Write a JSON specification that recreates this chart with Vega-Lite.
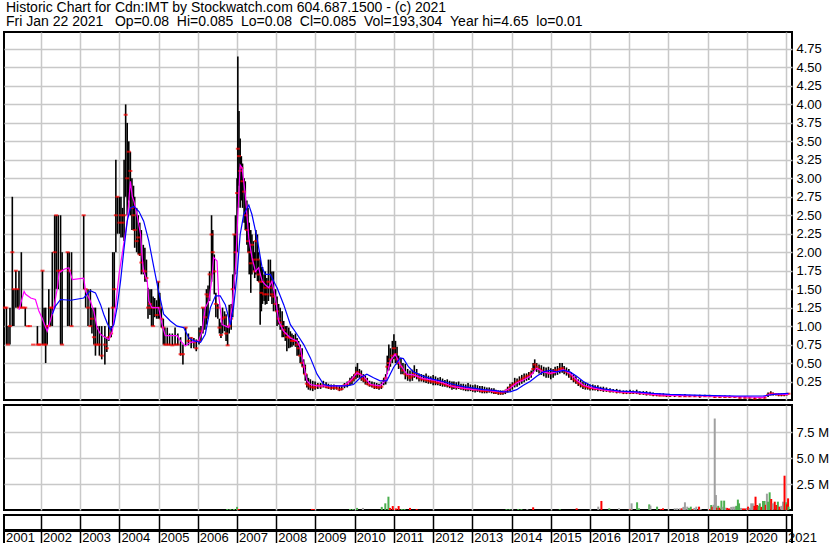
{
"$schema": "https://vega.github.io/schema/vega-lite/v6.json",
"background": "white",
"padding": {"left": 1, "top": 0, "right": 0, "bottom": 0},
"spacing": 2,
"resolve": {"scale": {"color": "independent"}},
"title": {"text": ["Historic Chart for Cdn:IMT by Stockwatch.com 604.687.1500 - (c) 2021", "Fri Jan 22 2021 \u00a0\u00a0Op=0.08 \u00a0Hi=0.085 \u00a0Lo=0.08 \u00a0Cl=0.085 \u00a0Vol=193,304 \u00a0Year hi=4.65 \u00a0lo=0.01"], "anchor": "start", "frame": "group", "fontSize": 14, "fontWeight": "normal", "font": "Liberation Sans", "color": "black", "lineHeight": 14.5, "offset": 2, "dx": 2, "baseline": "top"},
"config": {
  "view": {"stroke": "black", "strokeWidth": 2},
  "font": "Liberation Sans",
  "axis": {"labelFont": "Liberation Sans", "labelFontSize": 13, "labelColor": "black", "gridColor": "#c8c8c8", "gridWidth": 1.5, "gridOpacity": 1, "labelOverlap": false}
},
"datasets": {
"bars": [
{"t":2001.08,"h":1.25,"l":1.25,"c":1.25},{"t":2001.12,"h":1.25,"l":0.75,"c":1.25},{"t":2001.16,"h":1.0,"l":0.75,"c":0.75},{"t":2001.21,"h":1.25,"l":0.75,"c":1.0},{"t":2001.27,"h":2.75,"l":1.0,"c":2.0},{"t":2001.31,"h":1.5,"l":1.0,"c":1.5},{"t":2001.36,"h":1.75,"l":1.25,"c":1.75},{"t":2001.40,"h":1.5,"l":1.25,"c":1.5},{"t":2001.44,"h":1.75,"l":1.25,"c":1.25},{"t":2001.50,"h":2.0,"l":1.25,"c":1.25},{"t":2001.55,"h":1.25,"l":1.25,"c":1.25},{"t":2001.60,"h":1.25,"l":1.0,"c":1.25},{"t":2001.66,"h":1.0,"l":1.0,"c":1.0},{"t":2001.72,"h":1.0,"l":1.0,"c":1.0},{"t":2001.80,"h":0.75,"l":0.75,"c":0.75},{"t":2001.91,"h":1.0,"l":0.75,"c":0.75},{"t":2001.95,"h":0.75,"l":0.75,"c":0.75},{"t":2001.99,"h":0.75,"l":0.75,"c":0.75},
{"t":2002.04,"h":1.75,"l":0.75,"c":1.75},{"t":2002.08,"h":1.25,"l":0.75,"c":0.75},{"t":2002.12,"h":1.25,"l":0.5,"c":0.75},{"t":2002.16,"h":1.0,"l":0.75,"c":1.0},{"t":2002.20,"h":1.5,"l":1.0,"c":1.0},{"t":2002.25,"h":1.25,"l":1.0,"c":1.25},{"t":2002.29,"h":2.0,"l":1.0,"c":1.25},{"t":2002.35,"h":2.5,"l":1.25,"c":2.0},{"t":2002.39,"h":2.5,"l":1.5,"c":2.5},{"t":2002.44,"h":2.5,"l":1.5,"c":1.75},{"t":2002.50,"h":2.5,"l":0.75,"c":1.75},{"t":2002.54,"h":2.0,"l":0.75,"c":0.75},{"t":2002.68,"h":2.0,"l":1.0,"c":2.0},{"t":2002.72,"h":2.0,"l":1.0,"c":1.75},{"t":2002.78,"h":2.0,"l":1.0,"c":1.0},
{"t":2003.09,"h":2.5,"l":1.5,"c":2.5},{"t":2003.14,"h":1.5,"l":1.25,"c":1.5},{"t":2003.20,"h":1.5,"l":1.0,"c":1.25},{"t":2003.26,"h":1.5,"l":1.0,"c":1.0},{"t":2003.30,"h":1.25,"l":0.9,"c":1.1},{"t":2003.35,"h":1.25,"l":0.75,"c":0.85},{"t":2003.39,"h":1.25,"l":0.6,"c":0.75},{"t":2003.44,"h":1.0,"l":0.75,"c":0.75},{"t":2003.49,"h":1.0,"l":0.6,"c":0.75},{"t":2003.55,"h":1.0,"l":0.55,"c":0.6},{"t":2003.63,"h":1.0,"l":0.48,"c":0.75},{"t":2003.68,"h":0.85,"l":0.65,"c":0.7},{"t":2003.73,"h":1.25,"l":0.8,"c":0.85},{"t":2003.79,"h":1.0,"l":0.85,"c":0.9},{"t":2003.83,"h":2.0,"l":1.0,"c":1.25},{"t":2003.87,"h":2.0,"l":1.25,"c":1.5},{"t":2003.91,"h":3.25,"l":2.0,"c":2.5},{"t":2003.95,"h":2.75,"l":2.25,"c":2.75},
{"t":2004.00,"h":2.75,"l":2.25,"c":2.4},{"t":2004.04,"h":2.75,"l":2.2,"c":2.5},{"t":2004.08,"h":2.6,"l":2.2,"c":2.4},{"t":2004.12,"h":3.25,"l":2.15,"c":2.5},{"t":2004.16,"h":4.0,"l":2.75,"c":3.86},{"t":2004.20,"h":3.75,"l":2.5,"c":3.0},{"t":2004.24,"h":3.5,"l":2.7,"c":3.36},{"t":2004.28,"h":3.36,"l":2.5,"c":3.1},{"t":2004.32,"h":3.0,"l":2.3,"c":2.6},{"t":2004.36,"h":2.9,"l":2.3,"c":2.5},
{"t":2004.39,"h":2.75,"l":2.06,"c":2.3},{"t":2004.44,"h":2.6,"l":2.0,"c":2.15},{"t":2004.48,"h":2.5,"l":1.97,"c":2.2},{"t":2004.52,"h":2.4,"l":1.95,"c":1.97},{"t":2004.56,"h":2.3,"l":1.7,"c":1.86},{"t":2004.61,"h":2.1,"l":1.7,"c":1.75},{"t":2004.65,"h":2.06,"l":1.6,"c":1.74},{"t":2004.69,"h":1.9,"l":1.6,"c":1.65},{"t":2004.73,"h":1.52,"l":1.1,"c":1.25},{"t":2004.78,"h":1.5,"l":1.15,"c":1.3},{"t":2004.82,"h":1.5,"l":1.0,"c":1.25},{"t":2004.86,"h":1.4,"l":1.0,"c":1.0},{"t":2004.90,"h":1.38,"l":1.12,"c":1.25},{"t":2004.95,"h":1.35,"l":1.1,"c":1.15},{"t":2004.99,"h":1.6,"l":1.1,"c":1.6},
{"t":2005.03,"h":1.45,"l":1.1,"c":1.25},{"t":2005.07,"h":1.25,"l":0.98,"c":1.1},{"t":2005.12,"h":1.1,"l":0.75,"c":0.98},{"t":2005.16,"h":0.98,"l":0.74,"c":0.75},{"t":2005.22,"h":0.98,"l":0.74,"c":0.75},{"t":2005.28,"h":0.9,"l":0.74,"c":0.75},{"t":2005.35,"h":0.9,"l":0.74,"c":0.74},{"t":2005.42,"h":0.98,"l":0.74,"c":0.75},{"t":2005.49,"h":0.9,"l":0.74,"c":0.75},{"t":2005.56,"h":0.85,"l":0.6,"c":0.62},{"t":2005.62,"h":0.75,"l":0.48,"c":0.62},{"t":2005.69,"h":0.98,"l":0.74,"c":0.98},{"t":2005.76,"h":0.9,"l":0.74,"c":0.8},{"t":2005.83,"h":0.85,"l":0.7,"c":0.84},{"t":2005.90,"h":0.84,"l":0.7,"c":0.78},{"t":2005.96,"h":0.82,"l":0.66,"c":0.7},
{"t":2006.03,"h":0.98,"l":0.75,"c":0.8},{"t":2006.08,"h":1.0,"l":0.8,"c":0.93},{"t":2006.13,"h":1.25,"l":0.9,"c":1.25},{"t":2006.18,"h":1.25,"l":0.95,"c":1.12},{"t":2006.22,"h":1.5,"l":1.02,"c":1.43},{"t":2006.26,"h":1.55,"l":1.1,"c":1.4},{"t":2006.30,"h":1.74,"l":1.34,"c":1.7},{"t":2006.35,"h":2.5,"l":1.6,"c":2.24},{"t":2006.38,"h":2.3,"l":1.7,"c":2.0},{"t":2006.42,"h":1.97,"l":1.43,"c":1.74},{"t":2006.46,"h":1.45,"l":1.12,"c":1.3},{"t":2006.51,"h":1.3,"l":1.1,"c":1.25},{"t":2006.55,"h":1.1,"l":0.9,"c":0.98},{"t":2006.59,"h":1.05,"l":0.84,"c":0.88},{"t":2006.63,"h":1.25,"l":0.9,"c":1.1},{"t":2006.68,"h":1.2,"l":0.93,"c":1.12},{"t":2006.72,"h":1.16,"l":0.8,"c":0.9},{"t":2006.76,"h":1.0,"l":0.74,"c":0.74},{"t":2006.80,"h":1.29,"l":0.9,"c":1.0},{"t":2006.85,"h":1.3,"l":0.95,"c":1.1},{"t":2006.89,"h":1.7,"l":1.12,"c":1.5},{"t":2006.93,"h":2.24,"l":1.5,"c":2.24},{"t":2006.96,"h":2.5,"l":1.7,"c":2.0},
{"t":2007.00,"h":3.0,"l":2.0,"c":2.8},{"t":2007.02,"h":4.65,"l":2.6,"c":3.4},{"t":2007.05,"h":3.91,"l":2.9,"c":3.3},{"t":2007.08,"h":3.54,"l":2.6,"c":3.1},{"t":2007.11,"h":3.3,"l":2.7,"c":3.14},{"t":2007.14,"h":3.2,"l":2.6,"c":2.96},{"t":2007.18,"h":3.0,"l":2.4,"c":2.82},{"t":2007.21,"h":2.96,"l":2.3,"c":2.5},{"t":2007.25,"h":2.7,"l":2.1,"c":2.3},{"t":2007.28,"h":2.6,"l":2.0,"c":2.15},{"t":2007.31,"h":2.4,"l":1.7,"c":2.0},{"t":2007.35,"h":2.3,"l":1.45,"c":1.85},{"t":2007.38,"h":2.24,"l":1.7,"c":2.1},{"t":2007.42,"h":2.15,"l":1.75,"c":1.9},{"t":2007.45,"h":2.0,"l":1.65,"c":1.74},{"t":2007.48,"h":2.3,"l":1.7,"c":2.15},{"t":2007.52,"h":2.24,"l":1.61,"c":1.9},{"t":2007.55,"h":2.0,"l":1.6,"c":1.7},{"t":2007.59,"h":1.9,"l":1.02,"c":1.6},{"t":2007.62,"h":1.8,"l":1.2,"c":1.45},{"t":2007.65,"h":1.8,"l":1.3,"c":1.6},{"t":2007.69,"h":1.7,"l":1.34,"c":1.43},{"t":2007.72,"h":1.74,"l":1.29,"c":1.52},{"t":2007.76,"h":1.65,"l":1.3,"c":1.43},{"t":2007.80,"h":1.9,"l":1.34,"c":1.6},{"t":2007.85,"h":1.9,"l":1.4,"c":1.52},{"t":2007.89,"h":1.74,"l":1.3,"c":1.43},{"t":2007.93,"h":1.74,"l":1.2,"c":1.4},{"t":2007.98,"h":1.5,"l":1.2,"c":1.3},
{"t":2008.02,"h":1.4,"l":1.0,"c":1.2},{"t":2008.06,"h":1.3,"l":1.02,"c":1.1},{"t":2008.10,"h":1.25,"l":0.95,"c":1.05},{"t":2008.15,"h":1.2,"l":0.85,"c":1.0},{"t":2008.19,"h":1.07,"l":0.85,"c":0.95},{"t":2008.23,"h":1.0,"l":0.8,"c":0.9},{"t":2008.27,"h":1.0,"l":0.66,"c":0.85},{"t":2008.32,"h":0.98,"l":0.7,"c":0.85},{"t":2008.36,"h":0.93,"l":0.71,"c":0.84},{"t":2008.40,"h":0.9,"l":0.72,"c":0.8},{"t":2008.44,"h":0.88,"l":0.74,"c":0.8},{"t":2008.49,"h":0.9,"l":0.72,"c":0.8},{"t":2008.53,"h":0.84,"l":0.6,"c":0.75},{"t":2008.57,"h":0.8,"l":0.6,"c":0.7},{"t":2008.61,"h":0.75,"l":0.5,"c":0.6},{"t":2008.66,"h":0.7,"l":0.45,"c":0.5},{"t":2008.70,"h":0.55,"l":0.35,"c":0.45},{"t":2008.74,"h":0.48,"l":0.26,"c":0.35},{"t":2008.78,"h":0.35,"l":0.17,"c":0.22},{"t":2008.82,"h":0.3,"l":0.14,"c":0.2},{"t":2008.87,"h":0.28,"l":0.13,"c":0.18},{"t":2008.93,"h":0.26,"l":0.12,"c":0.17},{"t":2008.99,"h":0.25,"l":0.14,"c":0.17},
{"t":2009.06,"h":0.23,"l":0.15,"c":0.2},{"t":2009.13,"h":0.23,"l":0.15,"c":0.18},{"t":2009.20,"h":0.26,"l":0.17,"c":0.2},{"t":2009.27,"h":0.24,"l":0.16,"c":0.18},{"t":2009.33,"h":0.22,"l":0.15,"c":0.17},{"t":2009.40,"h":0.21,"l":0.14,"c":0.16},{"t":2009.47,"h":0.21,"l":0.14,"c":0.17},{"t":2009.54,"h":0.2,"l":0.14,"c":0.16},{"t":2009.61,"h":0.19,"l":0.12,"c":0.14},{"t":2009.67,"h":0.2,"l":0.13,"c":0.15},{"t":2009.74,"h":0.23,"l":0.16,"c":0.2},{"t":2009.81,"h":0.25,"l":0.17,"c":0.21},{"t":2009.88,"h":0.3,"l":0.2,"c":0.25},{"t":2009.93,"h":0.32,"l":0.21,"c":0.27},{"t":2009.98,"h":0.35,"l":0.25,"c":0.3},
{"t":2010.03,"h":0.45,"l":0.28,"c":0.35},{"t":2010.07,"h":0.5,"l":0.3,"c":0.38},{"t":2010.12,"h":0.42,"l":0.3,"c":0.35},{"t":2010.17,"h":0.4,"l":0.26,"c":0.3},{"t":2010.22,"h":0.35,"l":0.24,"c":0.28},{"t":2010.27,"h":0.33,"l":0.21,"c":0.26},{"t":2010.32,"h":0.3,"l":0.2,"c":0.22},{"t":2010.38,"h":0.26,"l":0.18,"c":0.2},{"t":2010.44,"h":0.25,"l":0.17,"c":0.2},{"t":2010.50,"h":0.24,"l":0.15,"c":0.18},{"t":2010.56,"h":0.23,"l":0.15,"c":0.17},{"t":2010.62,"h":0.22,"l":0.14,"c":0.17},{"t":2010.68,"h":0.24,"l":0.15,"c":0.18},{"t":2010.74,"h":0.3,"l":0.2,"c":0.26},{"t":2010.79,"h":0.35,"l":0.21,"c":0.3},{"t":2010.83,"h":0.6,"l":0.35,"c":0.45},{"t":2010.87,"h":0.75,"l":0.4,"c":0.5},{"t":2010.91,"h":0.7,"l":0.45,"c":0.55},{"t":2010.96,"h":0.8,"l":0.5,"c":0.6},
{"t":2011.00,"h":0.89,"l":0.55,"c":0.7},{"t":2011.04,"h":0.8,"l":0.5,"c":0.62},{"t":2011.08,"h":0.72,"l":0.48,"c":0.55},{"t":2011.12,"h":0.6,"l":0.42,"c":0.5},{"t":2011.18,"h":0.57,"l":0.35,"c":0.45},{"t":2011.23,"h":0.5,"l":0.35,"c":0.4},{"t":2011.29,"h":0.49,"l":0.28,"c":0.35},{"t":2011.35,"h":0.42,"l":0.26,"c":0.33},{"t":2011.41,"h":0.4,"l":0.25,"c":0.3},{"t":2011.47,"h":0.41,"l":0.26,"c":0.32},{"t":2011.52,"h":0.47,"l":0.3,"c":0.36},{"t":2011.58,"h":0.42,"l":0.28,"c":0.33},{"t":2011.64,"h":0.36,"l":0.25,"c":0.3},{"t":2011.70,"h":0.35,"l":0.25,"c":0.28},{"t":2011.76,"h":0.34,"l":0.24,"c":0.28},{"t":2011.82,"h":0.36,"l":0.23,"c":0.27},{"t":2011.88,"h":0.33,"l":0.22,"c":0.26},{"t":2011.94,"h":0.32,"l":0.22,"c":0.25},
{"t":2012.00,"h":0.34,"l":0.2,"c":0.25},{"t":2012.06,"h":0.32,"l":0.2,"c":0.24},{"t":2012.12,"h":0.3,"l":0.2,"c":0.23},{"t":2012.18,"h":0.31,"l":0.19,"c":0.24},{"t":2012.24,"h":0.29,"l":0.18,"c":0.22},{"t":2012.30,"h":0.27,"l":0.18,"c":0.21},{"t":2012.36,"h":0.28,"l":0.17,"c":0.2},{"t":2012.42,"h":0.26,"l":0.16,"c":0.19},{"t":2012.48,"h":0.25,"l":0.14,"c":0.18},{"t":2012.53,"h":0.25,"l":0.15,"c":0.19},{"t":2012.59,"h":0.24,"l":0.14,"c":0.17},{"t":2012.65,"h":0.25,"l":0.15,"c":0.18},{"t":2012.71,"h":0.22,"l":0.14,"c":0.16},{"t":2012.77,"h":0.22,"l":0.13,"c":0.16},{"t":2012.83,"h":0.21,"l":0.12,"c":0.15},{"t":2012.89,"h":0.23,"l":0.12,"c":0.16},{"t":2012.95,"h":0.21,"l":0.12,"c":0.15},
{"t":2013.01,"h":0.2,"l":0.11,"c":0.14},{"t":2013.07,"h":0.21,"l":0.1,"c":0.14},{"t":2013.13,"h":0.2,"l":0.11,"c":0.14},{"t":2013.19,"h":0.19,"l":0.1,"c":0.13},{"t":2013.25,"h":0.19,"l":0.09,"c":0.12},{"t":2013.31,"h":0.18,"l":0.09,"c":0.12},{"t":2013.37,"h":0.17,"l":0.09,"c":0.12},{"t":2013.43,"h":0.17,"l":0.1,"c":0.13},{"t":2013.49,"h":0.16,"l":0.09,"c":0.12},{"t":2013.55,"h":0.16,"l":0.08,"c":0.11},{"t":2013.60,"h":0.14,"l":0.08,"c":0.1},{"t":2013.66,"h":0.13,"l":0.07,"c":0.1},{"t":2013.72,"h":0.13,"l":0.07,"c":0.09},{"t":2013.78,"h":0.13,"l":0.07,"c":0.1},{"t":2013.84,"h":0.14,"l":0.08,"c":0.11},{"t":2013.90,"h":0.18,"l":0.1,"c":0.14},{"t":2013.96,"h":0.22,"l":0.12,"c":0.17},
{"t":2014.02,"h":0.24,"l":0.14,"c":0.2},{"t":2014.08,"h":0.3,"l":0.17,"c":0.22},{"t":2014.14,"h":0.29,"l":0.18,"c":0.24},{"t":2014.20,"h":0.32,"l":0.2,"c":0.26},{"t":2014.26,"h":0.34,"l":0.22,"c":0.28},{"t":2014.32,"h":0.36,"l":0.24,"c":0.3},{"t":2014.38,"h":0.36,"l":0.26,"c":0.32},{"t":2014.44,"h":0.38,"l":0.27,"c":0.33},{"t":2014.50,"h":0.4,"l":0.3,"c":0.36},{"t":2014.55,"h":0.5,"l":0.36,"c":0.42},{"t":2014.59,"h":0.55,"l":0.4,"c":0.48},{"t":2014.64,"h":0.5,"l":0.38,"c":0.45},{"t":2014.70,"h":0.48,"l":0.36,"c":0.42},{"t":2014.76,"h":0.47,"l":0.34,"c":0.4},{"t":2014.82,"h":0.45,"l":0.32,"c":0.38},{"t":2014.88,"h":0.44,"l":0.3,"c":0.38},{"t":2014.94,"h":0.45,"l":0.3,"c":0.36},
{"t":2015.00,"h":0.43,"l":0.28,"c":0.36},{"t":2015.06,"h":0.42,"l":0.3,"c":0.37},{"t":2015.11,"h":0.45,"l":0.33,"c":0.4},{"t":2015.17,"h":0.46,"l":0.34,"c":0.4},{"t":2015.23,"h":0.5,"l":0.36,"c":0.42},{"t":2015.29,"h":0.5,"l":0.37,"c":0.43},{"t":2015.34,"h":0.46,"l":0.35,"c":0.4},{"t":2015.40,"h":0.44,"l":0.33,"c":0.38},{"t":2015.46,"h":0.42,"l":0.3,"c":0.36},{"t":2015.52,"h":0.38,"l":0.27,"c":0.32},{"t":2015.58,"h":0.35,"l":0.24,"c":0.28},{"t":2015.64,"h":0.32,"l":0.22,"c":0.26},{"t":2015.70,"h":0.28,"l":0.19,"c":0.23},{"t":2015.76,"h":0.27,"l":0.17,"c":0.21},{"t":2015.82,"h":0.25,"l":0.15,"c":0.19},{"t":2015.88,"h":0.24,"l":0.14,"c":0.18},{"t":2015.94,"h":0.22,"l":0.14,"c":0.17},
{"t":2016.00,"h":0.21,"l":0.13,"c":0.16},{"t":2016.07,"h":0.21,"l":0.13,"c":0.16},{"t":2016.13,"h":0.2,"l":0.13,"c":0.15},{"t":2016.20,"h":0.2,"l":0.12,"c":0.15},{"t":2016.27,"h":0.18,"l":0.12,"c":0.14},{"t":2016.34,"h":0.18,"l":0.11,"c":0.14},{"t":2016.42,"h":0.17,"l":0.11,"c":0.13},{"t":2016.51,"h":0.16,"l":0.1,"c":0.12},{"t":2016.59,"h":0.15,"l":0.1,"c":0.12},{"t":2016.68,"h":0.15,"l":0.09,"c":0.11},{"t":2016.76,"h":0.14,"l":0.09,"c":0.11},{"t":2016.85,"h":0.13,"l":0.08,"c":0.1},{"t":2016.93,"h":0.13,"l":0.08,"c":0.1},
{"t":2017.02,"h":0.14,"l":0.08,"c":0.1},{"t":2017.10,"h":0.13,"l":0.08,"c":0.1},{"t":2017.19,"h":0.14,"l":0.08,"c":0.1},{"t":2017.27,"h":0.12,"l":0.07,"c":0.09},{"t":2017.36,"h":0.12,"l":0.07,"c":0.09},{"t":2017.44,"h":0.12,"l":0.06,"c":0.08},{"t":2017.53,"h":0.11,"l":0.06,"c":0.08},{"t":2017.61,"h":0.1,"l":0.05,"c":0.07},{"t":2017.70,"h":0.09,"l":0.05,"c":0.07},{"t":2017.78,"h":0.09,"l":0.05,"c":0.06},{"t":2017.87,"h":0.09,"l":0.05,"c":0.06},{"t":2017.95,"h":0.08,"l":0.04,"c":0.06},
{"t":2018.04,"h":0.08,"l":0.04,"c":0.06},{"t":2018.16,"h":0.08,"l":0.04,"c":0.06},{"t":2018.29,"h":0.08,"l":0.04,"c":0.05},{"t":2018.42,"h":0.08,"l":0.04,"c":0.05},{"t":2018.54,"h":0.07,"l":0.04,"c":0.05},{"t":2018.67,"h":0.07,"l":0.04,"c":0.05},{"t":2018.80,"h":0.07,"l":0.03,"c":0.05},{"t":2018.93,"h":0.07,"l":0.04,"c":0.05},
{"t":2019.05,"h":0.07,"l":0.04,"c":0.05},{"t":2019.18,"h":0.06,"l":0.03,"c":0.04},{"t":2019.31,"h":0.06,"l":0.03,"c":0.04},{"t":2019.44,"h":0.06,"l":0.03,"c":0.04},{"t":2019.56,"h":0.06,"l":0.03,"c":0.04},{"t":2019.69,"h":0.05,"l":0.03,"c":0.04},{"t":2019.82,"h":0.05,"l":0.02,"c":0.03},{"t":2019.95,"h":0.05,"l":0.02,"c":0.03},
{"t":2020.07,"h":0.04,"l":0.02,"c":0.03},{"t":2020.20,"h":0.04,"l":0.01,"c":0.02},{"t":2020.33,"h":0.04,"l":0.02,"c":0.03},{"t":2020.45,"h":0.05,"l":0.02,"c":0.03},{"t":2020.54,"h":0.1,"l":0.04,"c":0.07},{"t":2020.61,"h":0.12,"l":0.06,"c":0.09},{"t":2020.67,"h":0.1,"l":0.06,"c":0.08},{"t":2020.74,"h":0.09,"l":0.06,"c":0.08},{"t":2020.81,"h":0.09,"l":0.05,"c":0.07},{"t":2020.88,"h":0.09,"l":0.05,"c":0.07},{"t":2020.95,"h":0.09,"l":0.05,"c":0.07},{"t":2021.02,"h":0.09,"l":0.06,"c":0.08},{"t":2021.06,"h":0.085,"l":0.08,"c":0.085}
],
"ma": [
{"t":2001.44,"v":1.22,"s":"a"},{"t":2001.57,"v":1.47,"s":"a"},{"t":2001.61,"v":1.43,"s":"a"},{"t":2001.74,"v":1.38,"s":"a"},{"t":2001.86,"v":1.36,"s":"a"},{"t":2001.95,"v":1.20,"s":"a"},{"t":2002.03,"v":1.11,"s":"a"},{"t":2002.12,"v":0.98,"s":"a"},{"t":2002.16,"v":0.93,"s":"a"},{"t":2002.25,"v":1.09,"s":"a"},{"t":2002.33,"v":1.25,"s":"a"},{"t":2002.42,"v":1.52,"s":"a"},{"t":2002.46,"v":1.72,"s":"a"},{"t":2002.59,"v":1.77,"s":"a"},{"t":2002.71,"v":1.79,"s":"a"},{"t":2002.80,"v":1.63,"s":"a"},{"t":2003.09,"v":1.65,"s":"a"},{"t":2003.14,"v":1.47,"s":"a"},{"t":2003.26,"v":1.34,"s":"a"},{"t":2003.35,"v":1.20,"s":"a"},{"t":2003.43,"v":0.98,"s":"a"},{"t":2003.52,"v":0.89,"s":"a"},{"t":2003.60,"v":0.86,"s":"a"},{"t":2003.73,"v":0.82,"s":"a"},{"t":2003.82,"v":0.93,"s":"a"},{"t":2003.90,"v":1.25,"s":"a"},{"t":2003.99,"v":1.70,"s":"a"},{"t":2004.07,"v":1.97,"s":"a"},{"t":2004.20,"v":2.42,"s":"a"},{"t":2004.28,"v":2.96,"s":"a"},{"t":2004.33,"v":2.75,"s":"a"},{"t":2004.37,"v":2.69,"s":"a"},{"t":2004.45,"v":2.51,"s":"a"},{"t":2004.54,"v":2.24,"s":"a"},{"t":2004.58,"v":1.93,"s":"a"},{"t":2004.62,"v":1.74,"s":"a"},{"t":2004.71,"v":1.61,"s":"a"},{"t":2004.75,"v":1.34,"s":"a"},{"t":2004.83,"v":1.25,"s":"a"},{"t":2005.00,"v":1.25,"s":"a"},{"t":2005.09,"v":1.02,"s":"a"},{"t":2005.17,"v":0.87,"s":"a"},{"t":2005.47,"v":0.87,"s":"a"},{"t":2005.56,"v":0.80,"s":"a"},{"t":2005.68,"v":0.73,"s":"a"},{"t":2005.81,"v":0.78,"s":"a"},{"t":2006.02,"v":0.80,"s":"a"},{"t":2006.11,"v":0.93,"s":"a"},{"t":2006.19,"v":1.25,"s":"a"},{"t":2006.28,"v":1.34,"s":"a"},{"t":2006.36,"v":1.65,"s":"a"},{"t":2006.40,"v":1.93,"s":"a"},{"t":2006.49,"v":1.88,"s":"a"},{"t":2006.53,"v":1.43,"s":"a"},{"t":2006.62,"v":1.02,"s":"a"},{"t":2006.79,"v":0.98,"s":"a"},{"t":2006.87,"v":1.25,"s":"a"},{"t":2006.96,"v":1.79,"s":"a"},{"t":2007.04,"v":2.73,"s":"a"},{"t":2007.08,"v":3.18,"s":"a"},{"t":2007.13,"v":3.14,"s":"a"},{"t":2007.21,"v":2.78,"s":"a"},{"t":2007.30,"v":2.19,"s":"a"},{"t":2007.38,"v":1.93,"s":"a"},{"t":2007.47,"v":1.74,"s":"a"},{"t":2007.55,"v":1.79,"s":"a"},{"t":2007.64,"v":1.61,"s":"a"},{"t":2007.72,"v":1.56,"s":"a"},{"t":2007.81,"v":1.52,"s":"a"},{"t":2007.89,"v":1.61,"s":"a"},{"t":2007.98,"v":1.38,"s":"a"},{"t":2008.06,"v":1.07,"s":"a"},{"t":2008.19,"v":0.93,"s":"a"},{"t":2008.36,"v":0.84,"s":"a"},{"t":2008.53,"v":0.80,"s":"a"},{"t":2008.61,"v":0.71,"s":"a"},{"t":2008.70,"v":0.48,"s":"a"},{"t":2008.78,"v":0.26,"s":"a"},{"t":2008.87,"v":0.21,"s":"a"},{"t":2009.04,"v":0.19,"s":"a"},{"t":2009.72,"v":0.19,"s":"a"},{"t":2009.89,"v":0.26,"s":"a"},{"t":2010.06,"v":0.37,"s":"a"},{"t":2010.23,"v":0.32,"s":"a"},{"t":2010.40,"v":0.21,"s":"a"},{"t":2010.65,"v":0.19,"s":"a"},{"t":2010.78,"v":0.26,"s":"a"},{"t":2010.91,"v":0.53,"s":"a"},{"t":2011.03,"v":0.62,"s":"a"},{"t":2011.16,"v":0.48,"s":"a"},{"t":2011.33,"v":0.35,"s":"a"},{"t":2011.50,"v":0.34,"s":"a"},{"t":2011.75,"v":0.29,"s":"a"},{"t":2012.01,"v":0.27,"s":"a"},{"t":2012.26,"v":0.23,"s":"a"},{"t":2012.52,"v":0.18,"s":"a"},{"t":2012.77,"v":0.16,"s":"a"},{"t":2013.03,"v":0.14,"s":"a"},{"t":2013.28,"v":0.135,"s":"a"},{"t":2013.54,"v":0.12,"s":"a"},{"t":2013.79,"v":0.11,"s":"a"},{"t":2013.96,"v":0.16,"s":"a"},{"t":2014.13,"v":0.23,"s":"a"},{"t":2014.30,"v":0.27,"s":"a"},{"t":2014.47,"v":0.32,"s":"a"},{"t":2014.64,"v":0.43,"s":"a"},{"t":2014.81,"v":0.38,"s":"a"},{"t":2014.98,"v":0.36,"s":"a"},{"t":2015.15,"v":0.38,"s":"a"},{"t":2015.32,"v":0.41,"s":"a"},{"t":2015.49,"v":0.36,"s":"a"},{"t":2015.66,"v":0.27,"s":"a"},{"t":2015.83,"v":0.20,"s":"a"},{"t":2016.08,"v":0.16,"s":"a"},{"t":2016.34,"v":0.135,"s":"a"},{"t":2016.76,"v":0.11,"s":"a"},{"t":2017.19,"v":0.10,"s":"a"},{"t":2017.61,"v":0.077,"s":"a"},{"t":2018.04,"v":0.063,"s":"a"},{"t":2018.88,"v":0.054,"s":"a"},{"t":2019.73,"v":0.045,"s":"a"},{"t":2020.41,"v":0.036,"s":"a"},{"t":2020.58,"v":0.077,"s":"a"},{"t":2020.75,"v":0.08,"s":"a"},{"t":2021.06,"v":0.077,"s":"a"},
{"t":2002.29,"v":1.16,"s":"b"},{"t":2002.37,"v":1.27,"s":"b"},{"t":2002.50,"v":1.36,"s":"b"},{"t":2002.76,"v":1.35,"s":"b"},{"t":2003.09,"v":1.38,"s":"b"},{"t":2003.26,"v":1.48,"s":"b"},{"t":2003.39,"v":1.45,"s":"b"},{"t":2003.52,"v":1.29,"s":"b"},{"t":2003.60,"v":1.16,"s":"b"},{"t":2003.69,"v":1.04,"s":"b"},{"t":2003.77,"v":0.95,"s":"b"},{"t":2003.86,"v":1.02,"s":"b"},{"t":2003.94,"v":1.25,"s":"b"},{"t":2004.03,"v":1.61,"s":"b"},{"t":2004.11,"v":2.01,"s":"b"},{"t":2004.20,"v":2.42,"s":"b"},{"t":2004.28,"v":2.60,"s":"b"},{"t":2004.37,"v":2.62,"s":"b"},{"t":2004.50,"v":2.55,"s":"b"},{"t":2004.62,"v":2.42,"s":"b"},{"t":2004.75,"v":2.15,"s":"b"},{"t":2004.88,"v":1.79,"s":"b"},{"t":2005.00,"v":1.47,"s":"b"},{"t":2005.13,"v":1.16,"s":"b"},{"t":2005.30,"v":1.07,"s":"b"},{"t":2005.47,"v":1.00,"s":"b"},{"t":2005.64,"v":0.98,"s":"b"},{"t":2005.77,"v":0.84,"s":"b"},{"t":2005.90,"v":0.80,"s":"b"},{"t":2006.07,"v":0.78,"s":"b"},{"t":2006.19,"v":0.89,"s":"b"},{"t":2006.32,"v":1.25,"s":"b"},{"t":2006.45,"v":1.41,"s":"b"},{"t":2006.57,"v":1.41,"s":"b"},{"t":2006.70,"v":1.29,"s":"b"},{"t":2006.83,"v":1.02,"s":"b"},{"t":2006.91,"v":1.25,"s":"b"},{"t":2007.00,"v":1.70,"s":"b"},{"t":2007.08,"v":2.24,"s":"b"},{"t":2007.17,"v":2.51,"s":"b"},{"t":2007.30,"v":2.64,"s":"b"},{"t":2007.38,"v":2.51,"s":"b"},{"t":2007.51,"v":2.19,"s":"b"},{"t":2007.64,"v":1.79,"s":"b"},{"t":2007.72,"v":1.70,"s":"b"},{"t":2007.85,"v":1.70,"s":"b"},{"t":2007.93,"v":1.61,"s":"b"},{"t":2008.02,"v":1.52,"s":"b"},{"t":2008.19,"v":1.29,"s":"b"},{"t":2008.36,"v":1.02,"s":"b"},{"t":2008.53,"v":0.89,"s":"b"},{"t":2008.70,"v":0.75,"s":"b"},{"t":2008.87,"v":0.57,"s":"b"},{"t":2009.04,"v":0.35,"s":"b"},{"t":2009.21,"v":0.21,"s":"b"},{"t":2009.38,"v":0.19,"s":"b"},{"t":2009.80,"v":0.19,"s":"b"},{"t":2009.97,"v":0.21,"s":"b"},{"t":2010.14,"v":0.30,"s":"b"},{"t":2010.31,"v":0.35,"s":"b"},{"t":2010.48,"v":0.30,"s":"b"},{"t":2010.65,"v":0.26,"s":"b"},{"t":2010.82,"v":0.26,"s":"b"},{"t":2010.99,"v":0.44,"s":"b"},{"t":2011.16,"v":0.57,"s":"b"},{"t":2011.24,"v":0.56,"s":"b"},{"t":2011.37,"v":0.45,"s":"b"},{"t":2011.50,"v":0.38,"s":"b"},{"t":2011.75,"v":0.32,"s":"b"},{"t":2012.01,"v":0.28,"s":"b"},{"t":2012.26,"v":0.25,"s":"b"},{"t":2012.52,"v":0.21,"s":"b"},{"t":2012.77,"v":0.18,"s":"b"},{"t":2013.03,"v":0.16,"s":"b"},{"t":2013.28,"v":0.14,"s":"b"},{"t":2013.54,"v":0.13,"s":"b"},{"t":2013.79,"v":0.11,"s":"b"},{"t":2013.96,"v":0.11,"s":"b"},{"t":2014.13,"v":0.14,"s":"b"},{"t":2014.30,"v":0.20,"s":"b"},{"t":2014.47,"v":0.25,"s":"b"},{"t":2014.64,"v":0.32,"s":"b"},{"t":2014.81,"v":0.38,"s":"b"},{"t":2014.98,"v":0.40,"s":"b"},{"t":2015.15,"v":0.38,"s":"b"},{"t":2015.32,"v":0.40,"s":"b"},{"t":2015.49,"v":0.38,"s":"b"},{"t":2015.66,"v":0.32,"s":"b"},{"t":2015.83,"v":0.25,"s":"b"},{"t":2016.08,"v":0.18,"s":"b"},{"t":2016.34,"v":0.15,"s":"b"},{"t":2016.76,"v":0.12,"s":"b"},{"t":2017.19,"v":0.11,"s":"b"},{"t":2017.61,"v":0.09,"s":"b"},{"t":2018.04,"v":0.077,"s":"b"},{"t":2018.88,"v":0.063,"s":"b"},{"t":2019.73,"v":0.054,"s":"b"},{"t":2020.41,"v":0.054,"s":"b"},{"t":2020.58,"v":0.068,"s":"b"},{"t":2020.75,"v":0.08,"s":"b"},{"t":2021.06,"v":0.09,"s":"b"}
],
"vol": [
{"t":2006.75,"v":100000,"k":"g"},{"t":2006.83,"v":100000,"k":"g"},{"t":2006.92,"v":100000,"k":"g"},{"t":2007.00,"v":300000,"k":"g"},{"t":2007.04,"v":100000,"k":"r"},{"t":2008.91,"v":100000,"k":"r"},{"t":2008.96,"v":80000,"k":"r"},{"t":2009.88,"v":100000,"k":"g"},{"t":2009.95,"v":100000,"k":"g"},{"t":2010.06,"v":200000,"k":"g"},{"t":2010.21,"v":200000,"k":"n"},{"t":2010.69,"v":300000,"k":"g"},{"t":2010.78,"v":640000,"k":"g"},{"t":2010.86,"v":1280000,"k":"g"},{"t":2010.90,"v":200000,"k":"r"},{"t":2010.97,"v":380000,"k":"r"},{"t":2011.05,"v":150000,"k":"r"},{"t":2011.12,"v":380000,"k":"r"},{"t":2011.20,"v":100000,"k":"g"},{"t":2011.27,"v":100000,"k":"g"},{"t":2011.41,"v":200000,"k":"r"},{"t":2011.58,"v":100000,"k":"r"},
{"t":2013.87,"v":80000,"k":"g"},{"t":2013.95,"v":80000,"k":"g"},{"t":2014.17,"v":100000,"k":"g"},{"t":2014.25,"v":80000,"k":"g"},{"t":2014.40,"v":80000,"k":"n"},{"t":2014.55,"v":260000,"k":"r"},{"t":2015.23,"v":80000,"k":"g"},{"t":2015.66,"v":160000,"k":"r"},
{"t":2016.21,"v":320000,"k":"n"},{"t":2016.29,"v":870000,"k":"r"},{"t":2016.49,"v":160000,"k":"g"},{"t":2016.74,"v":160000,"k":"n"},{"t":2017.03,"v":80000,"k":"r"},{"t":2017.06,"v":640000,"k":"n"},{"t":2017.20,"v":740000,"k":"g"},{"t":2017.25,"v":160000,"k":"g"},{"t":2017.51,"v":540000,"k":"g"},{"t":2017.54,"v":420000,"k":"n"},{"t":2017.71,"v":320000,"k":"g"},{"t":2017.80,"v":100000,"k":"r"},{"t":2017.86,"v":160000,"k":"r"},
{"t":2018.16,"v":160000,"k":"n"},{"t":2018.22,"v":160000,"k":"n"},{"t":2018.29,"v":160000,"k":"n"},{"t":2018.34,"v":160000,"k":"r"},{"t":2018.38,"v":300000,"k":"n"},{"t":2018.42,"v":740000,"k":"n"},{"t":2018.48,"v":320000,"k":"n"},{"t":2018.52,"v":200000,"k":"g"},{"t":2018.57,"v":320000,"k":"g"},{"t":2018.62,"v":100000,"k":"r"},{"t":2018.66,"v":200000,"k":"n"},{"t":2018.71,"v":320000,"k":"n"},{"t":2018.78,"v":320000,"k":"r"},{"t":2018.82,"v":100000,"k":"n"},
{"t":2019.06,"v":100000,"k":"r"},{"t":2019.09,"v":480000,"k":"g"},{"t":2019.12,"v":320000,"k":"r"},{"t":2019.15,"v":500000,"k":"n"},{"t":2019.18,"v":8800000,"k":"n"},{"t":2019.21,"v":1440000,"k":"n"},{"t":2019.24,"v":220000,"k":"r"},{"t":2019.27,"v":400000,"k":"g"},{"t":2019.30,"v":220000,"k":"r"},{"t":2019.35,"v":900000,"k":"g"},{"t":2019.38,"v":300000,"k":"n"},{"t":2019.42,"v":900000,"k":"g"},{"t":2019.46,"v":220000,"k":"n"},{"t":2019.50,"v":200000,"k":"r"},{"t":2019.55,"v":150000,"k":"r"},{"t":2019.60,"v":300000,"k":"n"},{"t":2019.65,"v":320000,"k":"n"},{"t":2019.70,"v":320000,"k":"n"},{"t":2019.73,"v":400000,"k":"g"},{"t":2019.77,"v":1000000,"k":"g"},{"t":2019.80,"v":640000,"k":"g"},{"t":2019.85,"v":200000,"k":"n"},{"t":2019.90,"v":150000,"k":"r"},{"t":2019.95,"v":150000,"k":"r"},
{"t":2020.00,"v":200000,"k":"n"},{"t":2020.03,"v":320000,"k":"r"},{"t":2020.07,"v":200000,"k":"n"},{"t":2020.11,"v":640000,"k":"n"},{"t":2020.15,"v":640000,"k":"n"},{"t":2020.19,"v":400000,"k":"r"},{"t":2020.22,"v":1280000,"k":"r"},{"t":2020.26,"v":480000,"k":"r"},{"t":2020.30,"v":400000,"k":"g"},{"t":2020.33,"v":640000,"k":"g"},{"t":2020.37,"v":300000,"k":"r"},{"t":2020.41,"v":870000,"k":"g"},{"t":2020.45,"v":870000,"k":"g"},{"t":2020.48,"v":500000,"k":"r"},{"t":2020.51,"v":1570000,"k":"n"},{"t":2020.54,"v":800000,"k":"g"},{"t":2020.58,"v":1700000,"k":"g"},{"t":2020.62,"v":1060000,"k":"r"},{"t":2020.66,"v":640000,"k":"n"},{"t":2020.71,"v":800000,"k":"r"},{"t":2020.75,"v":480000,"k":"r"},{"t":2020.79,"v":800000,"k":"g"},{"t":2020.83,"v":320000,"k":"r"},{"t":2020.88,"v":400000,"k":"n"},{"t":2020.92,"v":800000,"k":"n"},{"t":2020.96,"v":3300000,"k":"r"},{"t":2021.00,"v":740000,"k":"g"},{"t":2021.02,"v":550000,"k":"r"},{"t":2021.05,"v":1120000,"k":"r"},{"t":2021.06,"v":320000,"k":"g"}
],
"years": [{"yr":2001},{"yr":2002},{"yr":2003},{"yr":2004},{"yr":2005},{"yr":2006},{"yr":2007},{"yr":2008},{"yr":2009},{"yr":2010},{"yr":2011},{"yr":2012},{"yr":2013},{"yr":2014},{"yr":2015},{"yr":2016},{"yr":2017},{"yr":2018},{"yr":2019},{"yr":2020},{"yr":2021}]
},
"vconcat": [
{
 "width": 788, "height": 368,
 "layer": [
  {"data": {"name": "bars"}, "mark": {"type": "rule", "color": "black", "strokeWidth": 1.6},
   "encoding": {
    "x": {"field": "t", "type": "quantitative", "scale": {"domain": [2001.058, 2021.15], "nice": false, "zero": false}, "axis": {"orient": "bottom", "values": [2002,2003,2004,2005,2006,2007,2008,2009,2010,2011,2012,2013,2014,2015,2016,2017,2018,2019,2020,2021], "tickCount": 40, "grid": true, "labels": false, "ticks": false, "domain": false, "title": null}},
    "y": {"field": "l", "type": "quantitative", "scale": {"domain": [0, 4.98], "nice": false, "zero": false}, "axis": {"orient": "right", "values": [0.25,0.5,0.75,1,1.25,1.5,1.75,2,2.25,2.5,2.75,3,3.25,3.5,3.75,4,4.25,4.5,4.75], "tickCount": 40, "format": ".2f", "grid": true, "ticks": false, "domain": false, "title": null, "labelPadding": 4, "labelOverlap": false}},
    "y2": {"field": "h"}
   }},
  {"data": {"name": "bars"}, "mark": {"type": "tick", "orient": "horizontal", "color": "#ff0000", "size": 4, "thickness": 2},
   "encoding": {"x": {"field": "t", "type": "quantitative"}, "y": {"field": "c", "type": "quantitative"}}},
  {"data": {"name": "ma"}, "mark": {"type": "line", "strokeWidth": 1.2},
   "encoding": {"x": {"field": "t", "type": "quantitative"}, "y": {"field": "v", "type": "quantitative"},
    "color": {"field": "s", "type": "nominal", "scale": {"domain": ["a", "b"], "range": ["#ff00ff", "#0000ff"]}, "legend": null}}},
  {"mark": {"type": "text", "text": "Cdn:IMT", "align": "left", "baseline": "middle", "fontSize": 13, "color": "black"},
   "encoding": {"x": {"datum": 2001.25, "type": "quantitative"}, "y": {"datum": 4.83, "type": "quantitative"}}}
 ]
},
{
 "width": 788, "height": 105,
 "layer": [
  {"data": {"name": "vol"}, "mark": {"type": "rule", "strokeWidth": 2},
   "encoding": {
    "x": {"field": "t", "type": "quantitative", "scale": {"domain": [2001.058, 2021.15], "nice": false, "zero": false}, "axis": {"orient": "bottom", "values": [2002,2003,2004,2005,2006,2007,2008,2009,2010,2011,2012,2013,2014,2015,2016,2017,2018,2019,2020,2021], "tickCount": 40, "grid": true, "labels": false, "ticks": false, "domain": false, "title": null}},
    "y": {"field": "v", "type": "quantitative", "scale": {"domain": [0, 10100000], "nice": false}, "axis": {"orient": "right", "values": [2500000, 5000000, 7500000], "tickCount": 10, "labelExpr": "format(datum.value/1000000, '.1f') + ' M'", "grid": true, "ticks": false, "domain": false, "title": null, "labelPadding": 4, "labelOverlap": false}},
    "y2": {"datum": 0},
    "color": {"field": "k", "type": "nominal", "scale": {"domain": ["g", "r", "n"], "range": ["#4caf50", "#ff0000", "#a0a0a0"]}, "legend": null}
   }},
  {"mark": {"type": "text", "text": "Volume", "align": "left", "baseline": "middle", "fontSize": 13, "color": "black"},
   "encoding": {"x": {"datum": 2001.25, "type": "quantitative"}, "y": {"datum": 9000000, "type": "quantitative"}}}
 ]
},
{
 "width": 788, "height": 30,
 "data": {"name": "years"},
 "transform": [{"calculate": "max(datum.yr, 2001.058)", "as": "pos"}],
 "layer": [
  {"mark": {"type": "text", "align": "left", "baseline": "middle", "fontSize": 13, "dx": 2, "color": "black"},
   "encoding": {
    "x": {"field": "pos", "type": "quantitative", "scale": {"domain": [2001.058, 2021.15], "nice": false, "zero": false}, "axis": {"orient": "bottom", "values": [2002,2003,2004,2005,2006,2007,2008,2009,2010,2011,2012,2013,2014,2015,2016,2017,2018,2019,2020,2021], "tickCount": 40, "grid": true, "gridColor": "black", "gridWidth": 1.5, "labels": false, "ticks": false, "domain": false, "title": null}},
    "y": {"datum": 0.25, "type": "quantitative", "scale": {"domain": [0, 1]}, "axis": null},
    "text": {"field": "yr", "type": "nominal"}
   }},
  {"mark": {"type": "rule", "color": "black", "strokeWidth": 2},
   "encoding": {"y": {"datum": 0.48, "type": "quantitative"}}}
 ]
}
]
}
